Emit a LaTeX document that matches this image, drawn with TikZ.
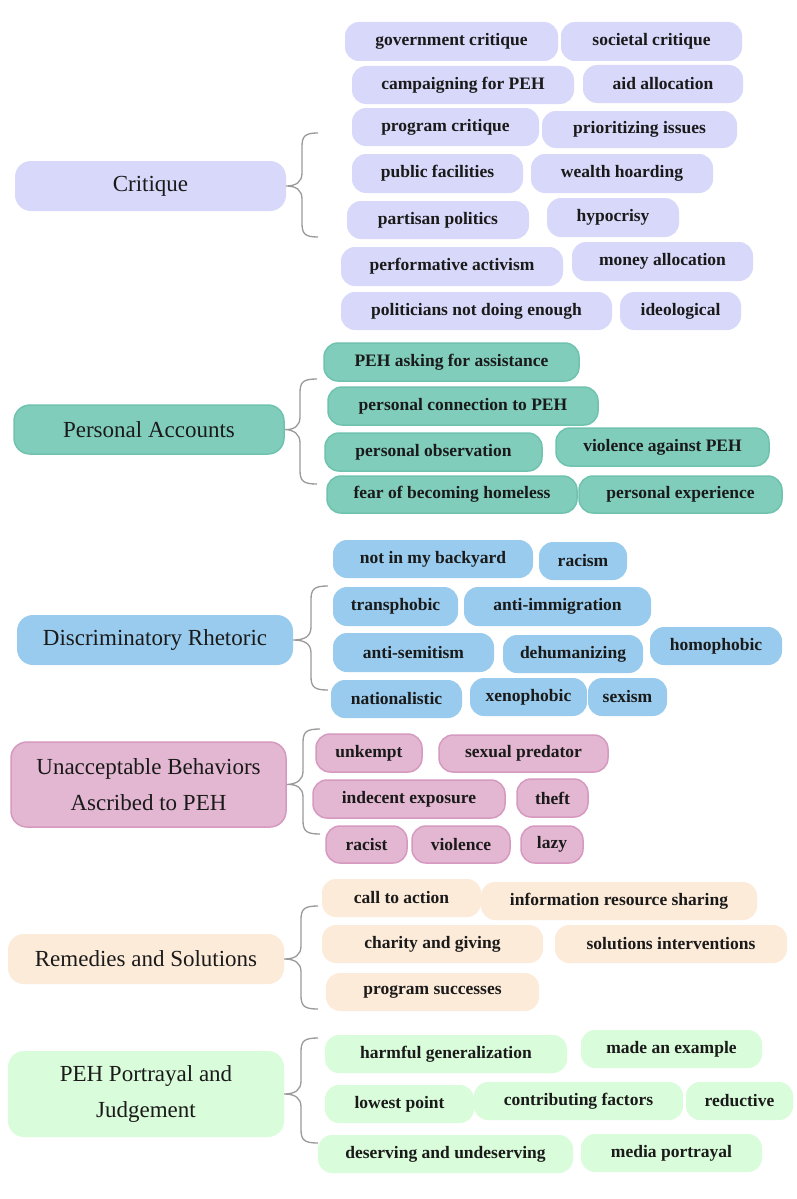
\documentclass[tikz,border=0pt]{standalone}
\usepackage{fontspec}
\setmainfont{Liberation Serif}
\definecolor{critF}{HTML}{D8D8FA}
\definecolor{persF}{HTML}{81CDBC}
\definecolor{persD}{HTML}{6FC3AE}
\definecolor{discF}{HTML}{98CBED}
\definecolor{unacF}{HTML}{E3B7D1}
\definecolor{unacD}{HTML}{D699C0}
\definecolor{remF}{HTML}{FDEBD9}
\definecolor{pehF}{HTML}{D9FCDA}
\definecolor{braceC}{HTML}{9A9A9A}
\definecolor{txt}{HTML}{1A1A1A}
\tikzset{
  leaf/.style={rounded corners=14pt, inner sep=0pt, text=txt,
    font=\fontsize{17.5}{20}\selectfont\bfseries},
  mainbox/.style={rounded corners=16pt, inner sep=0pt, text=txt, align=center,
    font=\fontsize{23}{36}\selectfont},
  crit/.style={fill=critF},
  pers/.style={fill=persF, draw=persD, line width=1.5pt},
  disc/.style={fill=discF},
  unac/.style={fill=unacF, draw=unacD, line width=1.5pt},
  rem/.style={fill=remF},
  peh/.style={fill=pehF},
  bracestyle/.style={draw=braceC, line width=1.3pt}
}
% name, x1, y1, x2, y2, text, style
\newcommand\lf[7]{\node[leaf,#7,minimum width={(#4-#2)*1pt},minimum height={(#5-#3)*1pt}] (#1) at ({(#2+#4)/2},{(#3+#5)/2}) {#6};}
\newcommand\mn[7]{\node[mainbox,#7,minimum width={(#4-#2)*1pt},minimum height={(#5-#3)*1pt}] (#1) at ({(#2+#4)/2},{(#3+#5)/2}) {#6};}
% main node, vx, top, bottom, end x, tip y
\newcommand\brc[6]{%
  \coordinate (#1T) at (#5,#3);
  \coordinate (#1B) at (#5,#4);
  \draw[bracestyle] (#1T) .. controls (#2+3,#3) and (#2,#3+3) .. (#2,#3+14) -- (#2,#6-13)
    .. controls (#2,#6-4) and (#2-6,#6) .. (#1.east)
    .. controls (#2-6,#6) and (#2,#6+4) .. (#2,#6+13) -- (#2,#4-14)
    .. controls (#2,#4-3) and (#2+3,#4) .. (#1B);}
\begin{document}
\begin{tikzpicture}[x=1pt,y=-1pt]
\useasboundingbox (0,0) rectangle (797,1199);
\fill[white] (0,0) rectangle (797,1199);

% ---- Critique
\mn{critique}{15}{161}{286}{211}{Critique}{crit}
\brc{critique}{302}{133}{237}{318}{186}
\lf{c1}{345}{22}{558}{61}{government critique}{crit}
\lf{c2}{561}{22}{742}{61}{societal critique}{crit}
\lf{c3}{352}{66}{574}{104}{campaigning for PEH}{crit}
\lf{c4}{583}{65}{743}{103}{aid allocation}{crit}
\lf{c5}{352}{108}{539}{146}{program critique}{crit}
\lf{c6}{542}{111}{737}{148}{prioritizing issues}{crit}
\lf{c7}{352}{154}{523}{193}{public facilities}{crit}
\lf{c8}{531}{154}{713}{193}{wealth hoarding}{crit}
\lf{c9}{347}{201}{529}{239}{partisan politics}{crit}
\lf{c10}{547}{198}{679}{237}{hypocrisy}{crit}
\lf{c11}{341}{247}{563}{286}{performative activism}{crit}
\lf{c12}{572}{242}{753}{281}{money allocation}{crit}
\lf{c13}{341}{292}{612}{330}{politicians not doing enough}{crit}
\lf{c14}{620}{292}{741}{330}{ideological}{crit}

% ---- Personal Accounts
\mn{personal}{14}{405}{284}{454}{Personal Accounts}{pers}
\brc{personal}{300}{379}{484}{317}{430}
\lf{p1}{324}{343}{579}{381}{PEH asking for assistance}{pers}
\lf{p2}{328}{387}{598}{425}{personal connection to PEH}{pers}
\lf{p3}{325}{433}{542}{471}{personal observation}{pers}
\lf{p4}{556}{428}{769}{466}{violence against PEH}{pers}
\lf{p5}{327}{476}{577}{513}{fear of becoming homeless}{pers}
\lf{p6}{579}{476}{782}{513}{personal experience}{pers}

% ---- Discriminatory Rhetoric
\mn{discrim}{17}{615}{293}{665}{Discriminatory Rhetoric}{disc}
\brc{discrim}{311}{586}{690}{328}{640}
\lf{d1}{333}{540}{533}{578}{not in my backyard}{disc}
\lf{d2}{539}{542}{627}{580}{racism}{disc}
\lf{d3}{333}{587}{458}{626}{transphobic}{disc}
\lf{d4}{464}{587}{651}{626}{anti-immigration}{disc}
\lf{d5}{333}{633}{494}{672}{anti-semitism}{disc}
\lf{d6}{503}{635}{643}{673}{dehumanizing}{disc}
\lf{d7}{650}{627}{782}{665}{homophobic}{disc}
\lf{d8}{331}{680}{462}{718}{nationalistic}{disc}
\lf{d9}{470}{678}{587}{716}{xenophobic}{disc}
\lf{d10}{588}{678}{667}{716}{sexism}{disc}

% ---- Unacceptable Behaviors
\mn{unaccept}{11}{742}{286}{827}{Unacceptable Behaviors\\Ascribed to PEH}{unac}
\brc{unaccept}{303}{729}{834}{320}{784}
\lf{u1}{316}{734}{422}{772}{unkempt}{unac}
\lf{u2}{439}{735}{608}{772}{sexual predator}{unac}
\lf{u3}{313}{780}{505}{818}{indecent exposure}{unac}
\lf{u4}{517}{779}{588}{817}{theft}{unac}
\lf{u5}{326}{826}{407}{863}{racist}{unac}
\lf{u6}{412}{826}{510}{863}{violence}{unac}
\lf{u7}{521}{826}{583}{863}{lazy}{unac}

% ---- Remedies and Solutions
\mn{remedies}{8}{934}{284}{984}{Remedies and Solutions}{rem}
\brc{remedies}{301}{906}{1009}{318}{959}
\lf{r1}{322}{879}{481}{917}{call to action}{rem}
\lf{r2}{481}{882}{757}{920}{information resource sharing}{rem}
\lf{r3}{322}{925}{543}{963}{charity and giving}{rem}
\lf{r4}{555}{925}{787}{963}{solutions interventions}{rem}
\lf{r5}{326}{973}{539}{1011}{program successes}{rem}

% ---- PEH Portrayal and Judgement
\mn{portrayal}{8}{1051}{284}{1137}{PEH Portrayal and\\Judgement}{peh}
\brc{portrayal}{301}{1038}{1143}{318}{1094}
\lf{j1}{325}{1035}{567}{1073}{harmful generalization}{peh}
\lf{j2}{581}{1030}{762}{1068}{made an example}{peh}
\lf{j3}{325}{1085}{474}{1123}{lowest point}{peh}
\lf{j4}{474}{1082}{683}{1120}{contributing factors}{peh}
\lf{j5}{686}{1082}{793}{1120}{reductive}{peh}
\lf{j6}{318}{1135}{573}{1173}{deserving and undeserving}{peh}
\lf{j7}{581}{1134}{762}{1172}{media portrayal}{peh}
\end{tikzpicture}
\end{document}
